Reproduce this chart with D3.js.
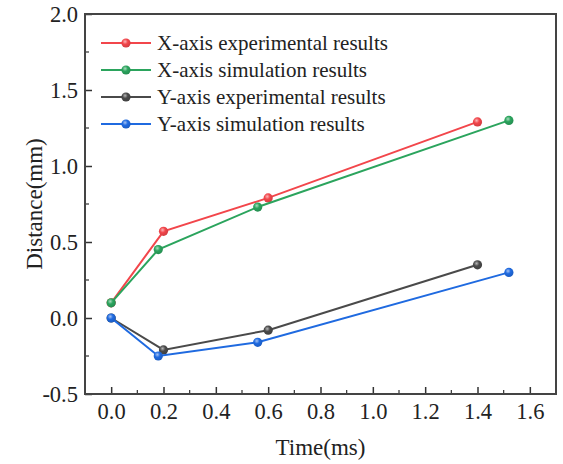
<!DOCTYPE html>
<html>
<head>
<meta charset="utf-8">
<script src="https://cdn.jsdelivr.net/npm/d3@7"></script>
<style>
  html, body { margin: 0; padding: 0; background: #fff; }
  svg { display: block; }
  text { font-family: "Liberation Serif", "Times New Roman", serif; fill: #222; }
</style>
</head>
<body>
<svg id="chart" width="563" height="464"></svg>
<script>
// Displacement over time along X and Y axes
const seriesNames = [
  "X-axis experimental results",
  "X-axis simulation results",
  "Y-axis experimental results",
  "Y-axis simulation results"
];
const seriesColors = ["#f2464b", "#2ba45d", "#4a4a4a", "#1f6ae0"];

const xExpTime = [0, 0.2, 0.6, 1.4];
const xExpDist = [0.1, 0.57, 0.79, 1.29];
const xSimTime = [0, 0.18, 0.56, 1.52];
const xSimDist = [0.1, 0.45, 0.73, 1.3];
const yExpTime = [0, 0.2, 0.6, 1.4];
const yExpDist = [0, -0.21, -0.08, 0.35];
const ySimTime = [0, 0.18, 0.56, 1.52];
const ySimDist = [0, -0.25, -0.16, 0.3];

const xTicks = [0, 0.2, 0.4, 0.6, 0.8, 1.0, 1.2, 1.4, 1.6];
const yTicks = [-0.5, 0, 0.5, 1.0, 1.5, 2.0];

const series = [
  { name: seriesNames[0], color: seriesColors[0], t: xExpTime, d: xExpDist },
  { name: seriesNames[1], color: seriesColors[1], t: xSimTime, d: xSimDist },
  { name: seriesNames[2], color: seriesColors[2], t: yExpTime, d: yExpDist },
  { name: seriesNames[3], color: seriesColors[3], t: ySimTime, d: ySimDist }
];

const margin = { left: 85, right: 7, top: 14, bottom: 70 };
const width = 563, height = 464;
const svg = d3.select("#chart");

const x = d3.scaleLinear().domain([-0.1, 1.7]).range([margin.left, width - margin.right]);
const y = d3.scaleLinear().domain([-0.5, 2.0]).range([height - margin.bottom, margin.top]);

// Glossy marker gradients
const defs = svg.append("defs");
series.forEach((s, i) => {
  const g = defs.append("radialGradient")
    .attr("id", "ball" + i)
    .attr("cx", "40%").attr("cy", "35%").attr("r", "65%");
  g.append("stop").attr("offset", "0%").attr("stop-color", d3.interpolateRgb(s.color, "#fff")(0.6));
  g.append("stop").attr("offset", "45%").attr("stop-color", s.color);
  g.append("stop").attr("offset", "100%").attr("stop-color", d3.color(s.color).darker(0.4));
});

// one decimal, plain hyphen for negatives
const fmt = v => d3.format(".1f")(v).replace("\u2212", "-");

// Bottom axis with inward ticks and minor ticks
const xAxis = svg.append("g")
  .attr("transform", `translate(0,${height - margin.bottom})`)
  .call(d3.axisBottom(x).tickValues(xTicks).tickFormat(fmt).tickSizeInner(-7).tickSizeOuter(0).tickPadding(9));
xAxis.select(".domain").remove();
xAxis.selectAll("text").attr("font-size", 22.5).attr("font-family", "Liberation Serif").attr("fill", "#222");
xAxis.selectAll("line").attr("stroke", "#333").attr("stroke-width", 1.5);
const xMinor = d3.range(-0.1, 1.71, 0.2).map(v => +v.toFixed(1)).filter(v => v > -0.1 && v < 1.7);
xAxis.selectAll(".minor").data(xMinor).enter().append("line")
  .attr("class", "minor")
  .attr("x1", d => x(d)).attr("x2", d => x(d))
  .attr("y1", 0).attr("y2", -4)
  .attr("stroke", "#333").attr("stroke-width", 1.2);

// Left axis
const yAxis = svg.append("g")
  .attr("transform", `translate(${margin.left},0)`)
  .call(d3.axisLeft(y).tickValues(yTicks).tickFormat(fmt).tickSizeInner(-7).tickSizeOuter(0).tickPadding(7));
yAxis.select(".domain").remove();
yAxis.selectAll("text").attr("font-size", 22.5).attr("font-family", "Liberation Serif").attr("fill", "#222");
yAxis.selectAll("line").attr("stroke", "#333").attr("stroke-width", 1.5);
const yMinor = [-0.25, 0.25, 0.75, 1.25, 1.75];
yAxis.selectAll(".minor").data(yMinor).enter().append("line")
  .attr("class", "minor")
  .attr("x1", 0).attr("x2", 4)
  .attr("y1", d => y(d)).attr("y2", d => y(d))
  .attr("stroke", "#333").attr("stroke-width", 1.2);

// Frame
svg.append("rect")
  .attr("x", margin.left).attr("y", margin.top)
  .attr("width", width - margin.left - margin.right)
  .attr("height", height - margin.top - margin.bottom)
  .attr("fill", "none").attr("stroke", "#444").attr("stroke-width", 2);

// Lines and markers
const line = d3.line().x(p => x(p[0])).y(p => y(p[1]));
series.forEach((s, i) => {
  const pts = s.t.map((t, k) => [t, s.d[k]]);
  svg.append("path").datum(pts)
    .attr("d", line)
    .attr("fill", "none").attr("stroke", s.color).attr("stroke-width", 2);
  svg.append("g").selectAll("circle").data(pts).enter().append("circle")
    .attr("cx", p => x(p[0])).attr("cy", p => y(p[1])).attr("r", 4.6)
    .attr("fill", `url(#ball${i})`);
});

// Legend
const legend = svg.append("g").attr("transform", "translate(101,43)");
series.forEach((s, i) => {
  const row = legend.append("g").attr("transform", `translate(0,${i * 27})`);
  row.append("line").attr("x1", 0).attr("x2", 50).attr("y1", 0).attr("y2", 0)
    .attr("stroke", s.color).attr("stroke-width", 2);
  row.append("circle").attr("cx", 25).attr("cy", 0).attr("r", 4.6).attr("fill", `url(#ball${i})`);
  row.append("text").attr("x", 56).attr("y", 0).attr("dy", "0.35em")
    .attr("font-size", 21).text(s.name);
});

// Axis titles
svg.append("text")
  .attr("x", 320.5).attr("y", 455)
  .attr("text-anchor", "middle").attr("font-size", 23).text("Time(ms)");
svg.append("text")
  .attr("transform", `translate(42,${(margin.top + height - margin.bottom) / 2}) rotate(-90)`)
  .attr("text-anchor", "middle").attr("font-size", 23).text("Distance(mm)");
</script>
</body>
</html>
